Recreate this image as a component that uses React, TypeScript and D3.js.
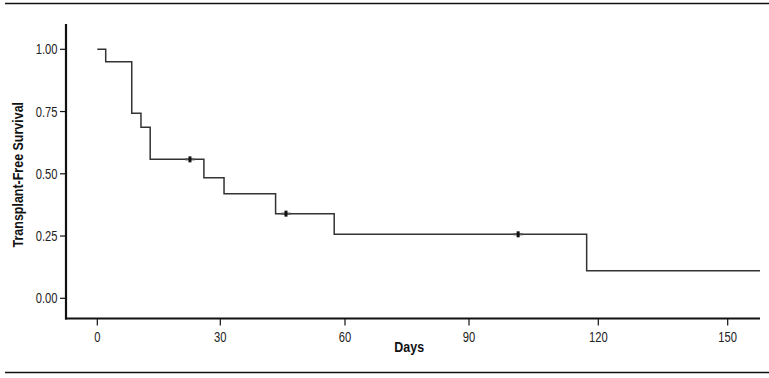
import React from "react";
import * as d3 from "d3";

const stepTimes = [0, 2.05, 8.4, 10.65, 12.9, 26.0, 30.9, 43.3, 57.4, 117.3];
const stepSurv = [1.0, 0.95, 0.743, 0.687, 0.558, 0.484, 0.42, 0.34, 0.257, 0.111];
const endTime = 157.5;
const censorTimes = [22.6, 45.8, 101.4];
const xTicks = [0, 30, 60, 90, 120, 150];
const yTicks = [0, 0.25, 0.5, 0.75, 1.0];

const W = 769;
const H = 378;
const FONT = "'Liberation Sans', Arial, sans-serif";

export default function App() {
  const x = d3
    .scaleLinear()
    .domain(xTicks)
    .range([97.3, 220.3, 345, 469, 598.3, 727.7]);
  const y = d3.scaleLinear().domain([0, 1]).range([298.3, 49.3]);
  const axisLeft = 66;
  const axisBottom = 318.5;
  const axisTop = 24;
  const axisRight = 760;

  const pts: [number, number][] = stepTimes.map((t, i) => [t, stepSurv[i]]);
  pts.push([endTime, stepSurv[stepSurv.length - 1]]);
  const line = d3
    .line<[number, number]>()
    .x((d) => x(d[0]))
    .y((d) => y(d[1]))
    .curve(d3.curveStepAfter);

  const survAt = (t: number) => {
    let s = 1;
    for (let i = 0; i < stepTimes.length; i++) if (stepTimes[i] <= t) s = stepSurv[i];
    return s;
  };

  return (
    <svg
      width={W}
      height={H}
      style={{ position: "absolute", left: 0, top: 0, background: "#fff" }}
    >
      <line x1={5} x2={769} y1={3.5} y2={3.5} stroke="#111" strokeWidth={1.5} />
      <line x1={5} x2={769} y1={372.5} y2={372.5} stroke="#111" strokeWidth={1.5} />

      {/* axes */}
      <line x1={axisLeft} x2={axisLeft} y1={axisTop} y2={axisBottom + 1} stroke="#111" strokeWidth={2.2} />
      <line x1={axisLeft - 1} x2={axisRight} y1={axisBottom} y2={axisBottom} stroke="#111" strokeWidth={2.2} />

      {yTicks.map((v) => (
        <g key={v}>
          <line x1={axisLeft - 6} x2={axisLeft} y1={y(v)} y2={y(v)} stroke="#111" strokeWidth={1.2} />
          <g transform={`translate(57.5,${y(v)}) scale(0.8,1)`}>
            <text dy="0.36em" textAnchor="end" fontFamily={FONT} fontSize={14} fill="#222">
              {v.toFixed(2)}
            </text>
          </g>
        </g>
      ))}
      {xTicks.map((v) => (
        <g key={v}>
          <line x1={x(v)} x2={x(v)} y1={axisBottom} y2={axisBottom + 7} stroke="#111" strokeWidth={1.2} />
          <g transform={`translate(${x(v)},341.5) scale(0.8,1)`}>
            <text textAnchor="middle" fontFamily={FONT} fontSize={14} fill="#222">
              {v}
            </text>
          </g>
        </g>
      ))}

      <g transform="translate(409.2,352) scale(0.83,1)">
        <text textAnchor="middle" fontFamily={FONT} fontSize={15} fontWeight="bold" fill="#111">
          Days
        </text>
      </g>
      <g transform="translate(22.5,174.7) rotate(-90) scale(0.86,1)">
        <text textAnchor="middle" fontFamily={FONT} fontSize={14.5} fontWeight="bold" fill="#111">
          Transplant-Free Survival
        </text>
      </g>

      <path d={line(pts) ?? ""} fill="none" stroke="#333" strokeWidth={1.5} />

      {censorTimes.map((t) => (
        <g key={t}>
          <line x1={x(t) - 5} x2={x(t) + 5} y1={y(survAt(t))} y2={y(survAt(t))} stroke="#555" strokeWidth={2} />
          <rect x={x(t) - 1.5} y={y(survAt(t)) - 3} width={3} height={6} fill="#111" />
        </g>
      ))}
    </svg>
  );
}
